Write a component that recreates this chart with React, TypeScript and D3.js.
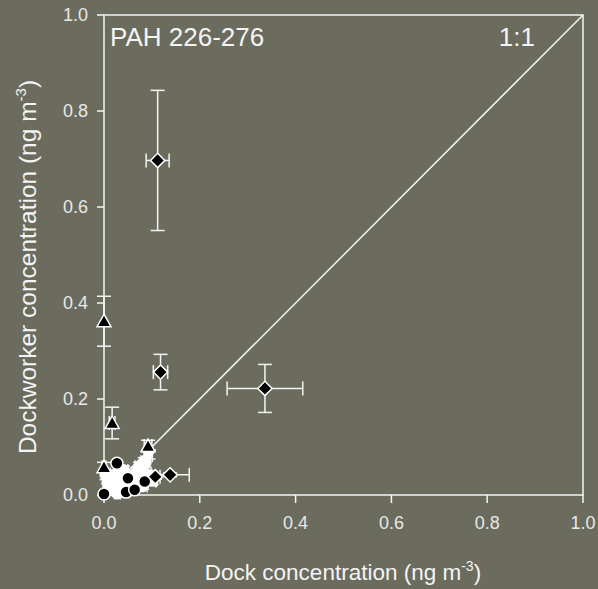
import React from "react";
import * as d3 from "d3";

const W = 598;
const H = 589;

const xTicks = [0, 0.2, 0.4, 0.6, 0.8, 1.0];
const yTicks = [0, 0.2, 0.4, 0.6, 0.8, 1.0];

// [x, y, xErr, yErr]
const blackDiamonds: number[][] = [
  [0.112, 0.697, 0.024, 0.146],
  [0.118, 0.256, 0.015, 0.037],
  [0.336, 0.222, 0.079, 0.05],
  [0.138, 0.042, 0.04, 0.004],
  [0.107, 0.038, 0.01, 0.005],
];
const blackTriangles: number[][] = [
  [0.0, 0.362, 0.0, 0.052],
  [0.017, 0.15, 0.006, 0.033],
  [0.092, 0.102, 0.008, 0.012],
  [0.0, 0.058, 0.004, 0.01],
];
const whiteCircles: number[][] = [
  [0.005, 0.042, 0.008, 0.01],
  [0.01, 0.025, 0.006, 0.008],
  [0.02, 0.036, 0.008, 0.01],
  [0.015, 0.012, 0.005, 0.006],
  [0.035, 0.02, 0.01, 0.008],
  [0.04, 0.05, 0.01, 0.01],
  [0.055, 0.03, 0.01, 0.01],
  [0.06, 0.012, 0.008, 0.006],
  [0.07, 0.045, 0.012, 0.012],
  [0.075, 0.058, 0.01, 0.01],
  [0.08, 0.02, 0.01, 0.008],
  [0.09, 0.04, 0.01, 0.01],
  [0.085, 0.068, 0.008, 0.01],
  [0.028, 0.005, 0.006, 0.004],
];
const whiteSquares: number[][] = [
  [0.03, 0.042, 0.008, 0.008],
  [0.065, 0.025, 0.008, 0.008],
  [0.1, 0.03, 0.008, 0.008],
  [0.045, 0.008, 0.008, 0.005],
  [0.008, 0.032, 0.006, 0.008],
];
const whiteTriangles: number[][] = [
  [0.093, 0.083, 0.008, 0.008],
  [0.05, 0.04, 0.008, 0.008],
];
const blackCircles: number[][] = [
  [0.027, 0.066, 0.0, 0.0],
  [0.05, 0.035, 0.0, 0.0],
  [0.085, 0.028, 0.0, 0.0],
  [0.0, 0.002, 0.0, 0.0],
  [0.046, 0.006, 0.0, 0.0],
  [0.064, 0.011, 0.0, 0.0],
];

const BG = "#6b6b5e";
const FG = "#f4f4f4";
const FONT = "Arial, 'Liberation Sans', sans-serif";

export default function App() {
  const x = d3.scaleLinear().domain([0, 1]).range([104, 583]);
  const y = d3.scaleLinear().domain([0, 1]).range([495, 15]);

  const capW = 7;
  const errBars = (data: number[][], key: string) =>
    data.map((d, i) => {
      const cx = x(d[0]);
      const cy = y(d[1]);
      const els: React.ReactNode[] = [];
      if (d[3] > 0) {
        const y1 = y(d[1] + d[3]);
        const y2 = y(d[1] - d[3]);
        els.push(<line key="v" x1={cx} x2={cx} y1={y1} y2={y2} />);
        els.push(<line key="c1" x1={cx - capW} x2={cx + capW} y1={y1} y2={y1} />);
        els.push(<line key="c2" x1={cx - capW} x2={cx + capW} y1={y2} y2={y2} />);
      }
      if (d[2] > 0) {
        const x1 = x(d[0] - d[2]);
        const x2 = x(d[0] + d[2]);
        els.push(<line key="h" x1={x1} x2={x2} y1={cy} y2={cy} />);
        els.push(<line key="c3" x1={x1} x2={x1} y1={cy - capW} y2={cy + capW} />);
        els.push(<line key="c4" x1={x2} x2={x2} y1={cy - capW} y2={cy + capW} />);
      }
      return <g key={key + i}>{els}</g>;
    });

  const diamond = d3.symbol().type(d3.symbolDiamond2).size(130)() as string;
  const triUp = "M0,-7L7,5.5L-7,5.5Z";
  const triDown = "M0,7L7,-5.5L-7,-5.5Z";
  const square = "M-5.5,-5.5L5.5,-5.5L5.5,5.5L-5.5,5.5Z";

  return (
    <svg
      width={W}
      height={H}
      style={{ position: "absolute", left: 0, top: 0, display: "block" }}
      fontFamily={FONT}
    >
      <rect x={0} y={0} width={W} height={H} fill={BG} />

      {/* frame */}
      <g stroke={FG} strokeWidth={1.5} fill="none">
        <rect x={x(0)} y={y(1)} width={x(1) - x(0)} height={y(0) - y(1)} />
        {xTicks.map((t) => (
          <line key={"xt" + t} x1={x(t)} x2={x(t)} y1={y(0)} y2={y(0) + 8} />
        ))}
        {yTicks.map((t) => (
          <line key={"yt" + t} x1={x(0) - 7} x2={x(0)} y1={y(t)} y2={y(t)} />
        ))}
        <line x1={x(0)} y1={y(0)} x2={x(1)} y2={y(1)} />
      </g>

      {/* tick labels */}
      <g fill="#e8e8e8" fontSize={18}>
        {xTicks.map((t) => (
          <text key={"xl" + t} x={x(t)} y={529} textAnchor="middle">
            {t.toFixed(1)}
          </text>
        ))}
        {yTicks.map((t) => (
          <text key={"yl" + t} x={88} y={y(t)} dy="0.36em" textAnchor="end">
            {t.toFixed(1)}
          </text>
        ))}
      </g>

      {/* error bars */}
      <g stroke={FG} strokeWidth={1.5}>
        {errBars(whiteCircles, "wc")}
        {errBars(whiteSquares, "ws")}
        {errBars(whiteTriangles, "wt")}
        {errBars(blackDiamonds, "bd")}
        {errBars(blackTriangles, "bt")}
      </g>

      {/* white markers */}
      <g fill="#ffffff" stroke="#ffffff" strokeWidth={1}>
        {whiteCircles.map((d, i) => (
          <circle key={"wcm" + i} cx={x(d[0])} cy={y(d[1])} r={6.5} />
        ))}
        {whiteSquares.map((d, i) => (
          <path key={"wsm" + i} d={square} transform={`translate(${x(d[0])},${y(d[1])})`} />
        ))}
        {whiteTriangles.map((d, i) => (
          <path key={"wtm" + i} d={triDown} transform={`translate(${x(d[0])},${y(d[1])})`} />
        ))}
      </g>

      {/* black markers */}
      <g fill="#000000" stroke="#ffffff" strokeWidth={1.5}>
        {blackCircles.map((d, i) => (
          <circle key={"bcm" + i} cx={x(d[0])} cy={y(d[1])} r={6} />
        ))}
        {blackDiamonds.map((d, i) => (
          <path key={"bdm" + i} d={diamond} transform={`translate(${x(d[0])},${y(d[1])})`} />
        ))}
        {blackTriangles.map((d, i) => (
          <path key={"btm" + i} d={triUp} transform={`translate(${x(d[0])},${y(d[1])})`} />
        ))}
      </g>

      {/* annotations */}
      <g fill={FG}>
        <text x={110} y={46} fontSize={26}>PAH 226-276</text>
        <text x={535} y={46} fontSize={26} textAnchor="end">1:1</text>
        <text x={343} y={580} fontSize={22.5} textAnchor="middle">
          Dock concentration (ng m
          <tspan fontSize={14} dy={-9}>-3</tspan>
          <tspan dy={9}>)</tspan>
        </text>
        <text
          transform={`translate(36,267) rotate(-90)`}
          fontSize={24.5}
          textAnchor="middle"
        >
          Dockworker concentration (ng m
          <tspan fontSize={15} dy={-10}>-3</tspan>
          <tspan dy={10}>)</tspan>
        </text>
      </g>
    </svg>
  );
}
